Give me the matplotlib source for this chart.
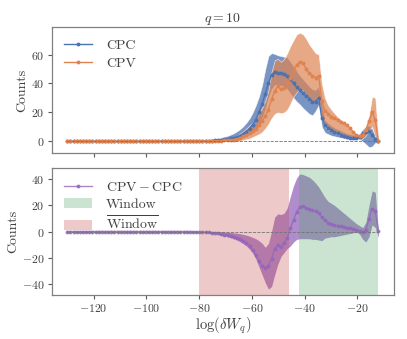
import numpy as np
import matplotlib
matplotlib.use("Agg")
import matplotlib.pyplot as plt

plt.rcParams.update({
    "font.family": "serif",
    "font.serif": ["cmr10"],
    "mathtext.fontset": "cm",
    "axes.formatter.use_mathtext": True,
    "axes.unicode_minus": True,
    "text.color": "0.25",
    "axes.labelcolor": "0.25",
    "xtick.color": "0.35",
    "ytick.color": "0.35",
    "xtick.labelcolor": "0.25",
    "ytick.labelcolor": "0.25",
    "axes.edgecolor": "0.5",
})

# log(dW_q) bins
x = np.linspace(-130, -12, 100)

zeros40 = [0.0] * 40  # flat part, x < -83

cpc_mean = zeros40 + [
    0.1, 0.1, 0.2, 0.3, 0.4, 0.5, 0.6, 0.8, 0.9, 1.1,
    1.4, 1.7, 2.0, 2.5, 3.1, 4.0, 5.2, 6.8, 8.8, 11.5,
    15, 20, 26, 33, 40, 46, 48, 47.5, 47, 46.5,
    45.5, 43, 40, 37.5, 35.5, 33.5, 31.5, 29.5, 27.5, 27.5,
    30, 16, 11, 9, 8, 6.5, 5.5, 4.5, 3.8, 3.2,
    2.6, 2.2, 2.2, 3.2, 5.5, 6.8, 7, 4.5, 1.5, 0]
cpc_hi = zeros40 + [
    0.3, 0.4, 0.5, 0.7, 0.9, 1.1, 1.4, 1.7, 2.1, 2.6,
    3.2, 3.9, 4.7, 5.7, 7, 8.5, 10.5, 13, 16, 20,
    25, 31, 39, 50, 59, 61, 60.5, 59.5, 59, 58.5,
    58, 55, 52, 48.5, 45.5, 43, 40.5, 38, 36, 35.5,
    38, 26, 15, 12.5, 11, 9.5, 8.5, 7.5, 6.5, 5.5,
    5, 4.5, 4.5, 5.5, 8.5, 10.5, 11, 9, 4, 1]
cpc_lo = zeros40 + [
    0, 0, 0, 0, 0, 0, 0, 0, 0, 0,
    0.3, 0.5, 0.7, 1, 1.4, 2, 2.7, 3.5, 4.5, 6,
    8, 11, 16, 22, 30, 36, 39, 39, 38.5, 38,
    36, 33, 30, 27.5, 25.5, 23, 21, 19, 18, 21,
    25, 10, 6, 5, 4, 3.5, 3, 2.5, 2, 1.8,
    1.5, 1.2, 1.3, 1.5, 0, -2, -4, -3.5, -1, -1.5]

cpv_mean = zeros40 + [
    0, 0, 0.1, 0.1, 0.1, 0.2, 0.2, 0.3, 0.4, 0.5,
    0.7, 0.85, 1, 1.3, 1.8, 2.5, 3.5, 4.5, 5.5, 7,
    8.5, 11, 14, 17.5, 22, 29, 35, 38, 36, 37,
    40, 44, 49, 53, 55, 54, 50, 47, 45.5, 44,
    45, 28, 21, 19, 17, 16, 15, 13.5, 12.5, 11,
    9, 6.5, 4.5, 3.5, 4.5, 8, 14, 20, 15, 0]
cpv_hi = zeros40 + [
    0, 0.1, 0.2, 0.3, 0.4, 0.5, 0.6, 0.8, 1, 1.2,
    1.8, 2.2, 2.5, 3, 3.8, 5.5, 7, 9, 11, 13,
    16, 19.5, 23, 28, 35, 48, 56, 57, 55, 57,
    61, 66, 70, 74, 75, 74, 71, 67, 64, 61,
    60, 40, 30, 25, 22, 19.5, 17, 15, 12.5, 10.5,
    8.5, 6.5, 5, 5, 7, 10, 18, 31, 30, 2]
cpv_lo = zeros40 + [
    0, 0, 0, 0, 0, 0, 0, 0, 0, 0,
    0, 0, 0, 0, 0.2, 0.5, 1, 1.5, 2, 3,
    4, 5, 6.5, 9, 12, 16, 19, 20, 19.5, 20,
    22, 26, 31, 34, 36, 35, 31, 29, 28, 27,
    29, 15, 10, 8, 7, 6, 5, 4, 3, 2.5,
    2, 1.5, 1.5, 1.5, 2, 4, 8, 10, 3, -3]

diff_mean = zeros40 + [
    -0.1, -0.2, -0.3, -0.4, -0.5, -0.7, -0.9, -1.1, -1.4, -1.8,
    -2.3, -2.8, -3.3, -4, -4.8, -5.8, -7, -8.5, -11, -14,
    -18, -22.5, -26.5, -27.5, -26, -21, -13, -10.5, -11.5, -8.5,
    -5, 2.5, 9, 15, 19, 19.5, 18, 17, 16.5, 15.5,
    14, 11, 8.5, 6.5, 6, 5, 4.5, 4, 3.5, 3,
    2.5, 2, 1.5, 0.5, -0.5, 1.5, 9.5, 17.5, 15.5, 0.5]
diff_hi = zeros40 + [
    0, 0, 0, 0, 0, 0, 0, 0, -0.1, -0.2,
    -0.3, -0.5, -0.7, -1, -1.3, -1.7, -2.2, -2.8, -3.5, -4.5,
    -5.5, -7, -9, -12, -9, 0, 11, 13.5, 13, 14,
    18, 27, 35, 41, 44, 43.5, 42.5, 41.5, 39.5, 37,
    34, 30, 26, 23, 21.5, 20, 18, 16, 14, 12,
    10, 8, 6, 4.5, 3, 7, 20, 31, 30, 0]
diff_lo = zeros40 + [
    -0.2, -0.3, -0.5, -0.7, -0.9, -1.2, -1.5, -1.9, -2.3, -2.8,
    -3.4, -4, -4.7, -5.5, -6.5, -7.8, -9.3, -11, -13.5, -16.5,
    -21, -27, -33, -39, -44, -42, -33, -25, -19, -16,
    -13, -11, -8, -6, -5.5, -5.5, -5.5, -5.5, -6, -6,
    -6.5, -7, -5, -4.5, -4, -4, -3.5, -3, -2.5, -2,
    -1.5, -1, -0.5, -2, -6, -8, -4, 5, 3, -4.5]

window = (-42, -12)
anti_window = (-80, -46)

blue, orange, purple = "#4C72B0", "#DD8452", "#9467bd"
green, red = "#55A868", "#C44E52"

fig = plt.figure(figsize=(4.07, 3.39), dpi=100)
ax1 = fig.add_axes([0.127, 0.549, 0.841, 0.371])
ax2 = fig.add_axes([0.127, 0.130, 0.841, 0.374], sharex=ax1)

# top panel
ax1.fill_between(x, cpc_lo, cpc_hi, color=blue, alpha=0.75, lw=0.5, edgecolor="white")
ax1.fill_between(x, cpv_lo, cpv_hi, color=orange, alpha=0.7, lw=0.5, edgecolor="white")
ax1.plot(x, cpc_mean, "o-", color=blue, lw=1, ms=1.8, label="CPC")
ax1.plot(x, cpv_mean, "o-", color=orange, lw=1, ms=1.8, label="CPV")
ax1.hlines(0, x[0], x[-1], colors="0.45", linestyles="--", lw=0.6)
ax1.set_ylabel("Counts", fontsize=10, labelpad=2)
ax1.set_title("$q = 10$", fontsize=10, pad=4)
ax1.legend(loc="upper left", frameon=False, fontsize=10,
           labelspacing=0.35, handletextpad=1.0)
ax1.set_yticks([0, 20, 40, 60])
ax1.tick_params(labelbottom=False)

# bottom panel
ax2.fill_between(x, diff_lo, diff_hi, color=purple, alpha=0.75, lw=0)
ax2.axvspan(*window, color=green, alpha=0.3, lw=0, label="Window")
ax2.axvspan(*anti_window, color=red, alpha=0.3, lw=0, label=r"$\overline{\mathrm{Window}}$")
ax2.plot(x, diff_mean, "o-", color=purple, alpha=0.8, lw=1, ms=1.8,
         label=r"$\mathrm{CPV} - \mathrm{CPC}$")
ax2.hlines(0, x[0], x[-1], colors="0.45", linestyles="--", lw=0.6)
ax2.set_ylabel("Counts", fontsize=10, labelpad=2)
ax2.set_xlabel(r"$\log(\delta W_q)$", fontsize=10.5, labelpad=1)
ax2.set_yticks([-40, -20, 0, 20, 40])
h, l = ax2.get_legend_handles_labels()
ax2.legend([h[2], h[0], h[1]], [l[2], l[0], l[1]], loc="upper left",
           frameon=False, fontsize=10, labelspacing=0.3, handletextpad=1.0)

for ax in (ax1, ax2):
    ax.tick_params(labelsize=8.5, length=3, width=0.8, pad=2)
    for s in ax.spines.values():
        s.set_linewidth(0.9)
ax2.set_xticks([-120, -100, -80, -60, -40, -20])

fig.savefig("out.png", dpi=100)
